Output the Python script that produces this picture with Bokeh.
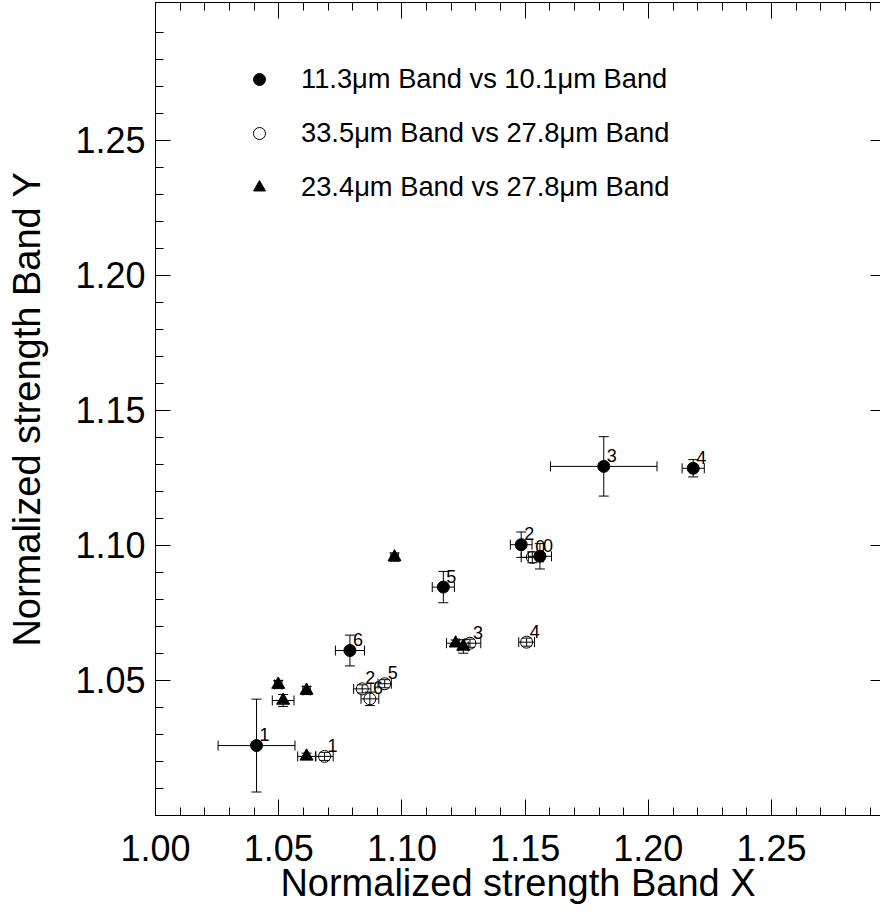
import numpy as np
from bokeh.plotting import figure
from bokeh.models import (ColumnDataSource, Range1d, LinearAxis, FixedTicker, Whisker,
                          TeeHead, Legend, LegendItem, Label, PrintfTickFormatter)
from bokeh.core.properties import value
from bokeh.embed import file_html
from bokeh.resources import INLINE

FONT = "Liberation Sans"

# 11.3um Band vs 10.1um Band (filled circles)
a_lab = ["1", "6", "5", "2", "0", "3", "4"]
a_x = [1.0410, 1.0789, 1.1168, 1.1484, 1.1560, 1.1819, 1.2182]
a_y = [1.0259, 1.0611, 1.0846, 1.1003, 1.0960, 1.1293, 1.1286]
a_xe = [0.0156, 0.0059, 0.0045, 0.0044, 0.0047, 0.0216, 0.0045]
a_ye = [0.0172, 0.0057, 0.0058, 0.0047, 0.0047, 0.0110, 0.0032]

# 33.5um Band vs 27.8um Band (open circles)
b_lab = ["1", "2", "6", "5", "3", "4", "0"]
b_x = [1.0686, 1.0839, 1.0870, 1.0930, 1.1276, 1.1506, 1.1529]
b_y = [1.0219, 1.0469, 1.0432, 1.0488, 1.0638, 1.0642, 1.0956]
b_xe = [0.0035, 0.0035, 0.0036, 0.0027, 0.0044, 0.0032, 0.0045]
b_ye = [0.0015, 0.0015, 0.0025, 0.0015, 0.0015, 0.0015, 0.0020]

# 23.4um Band vs 27.8um Band (filled triangles)
c_x = [1.0498, 1.0518, 1.0613, 1.0613, 1.0970, 1.1218, 1.1249]
c_y = [1.0485, 1.0426, 1.0463, 1.0219, 1.0957, 1.0638, 1.0626]
c_xe = [0.0015, 0.0044, 0.0015, 0.0036, 0.0015, 0.0037, 0.0020]
c_ye = [0.0015, 0.0022, 0.0015, 0.0012, 0.0015, 0.0012, 0.0025]

legend_labels = ["11.3μm Band vs 10.1μm Band",
                 "33.5μm Band vs 27.8μm Band",
                 "23.4μm Band vs 27.8μm Band"]

x_ticks = [1.00, 1.05, 1.10, 1.15, 1.20, 1.25]
y_ticks = [1.05, 1.10, 1.15, 1.20, 1.25]
x_minor = [round(1.00 + 0.01 * i, 2) for i in range(30)]
y_minor = [round(1.00 + 0.01 * i, 2) for i in range(30)]
y_first_label = "1.00"
x_title = "Normalized strength Band X"
y_title = "Normalized strength Band Y"

p = figure(width=880, height=907, output_backend="svg", toolbar_location=None,
           x_range=Range1d(1.0, 1.2942), y_range=Range1d(1.0, 1.3011),
           min_border_left=155, min_border_right=0, min_border_top=2,
           min_border_bottom=92, x_axis_location=None, y_axis_location=None)
p.outline_line_color = None
p.xgrid.visible = False
p.ygrid.visible = False
p.background_fill_color = "white"


def make_axis(ticks, minor, show_labels, line=True, tick_len=16, minor_len=8, label=None):
    ax = LinearAxis(ticker=FixedTicker(ticks=ticks, minor_ticks=minor),
                    formatter=PrintfTickFormatter(format="%.2f"))
    ax.major_tick_in = tick_len
    ax.major_tick_out = 0
    ax.minor_tick_in = minor_len
    ax.minor_tick_out = 0
    ax.major_tick_line_color = "black"
    ax.minor_tick_line_color = "black" if minor_len > 0 else None
    ax.axis_line_color = "black" if line else None
    if show_labels:
        ax.major_label_text_font = FONT
        ax.major_label_text_font_size = "36px"
        ax.major_label_text_color = "black"
    else:
        ax.major_label_text_font_size = "0px"
        ax.major_label_standoff = 0
    if label:
        ax.axis_label = label
        ax.axis_label_text_font = FONT
        ax.axis_label_text_font_size = "38px"
        ax.axis_label_text_font_style = "normal"
        ax.axis_label_text_color = "black"
    return ax


xb = make_axis(x_ticks, x_minor, True, label=x_title)
xb.major_label_standoff = 19
xb.axis_label_standoff = -2
p.add_layout(xb, "below")
xt = make_axis(x_ticks, x_minor, False)
p.add_layout(xt, "above")
yl = make_axis(y_ticks, y_minor, True, tick_len=15, label=y_title)
yl.major_label_standoff = 10
yl.axis_label_standoff = 24
p.add_layout(yl, "left")
yr = make_axis(y_ticks, y_minor, False, line=False, tick_len=10, minor_len=0)
p.add_layout(yr, "right")

# y tick label "1.00" is lifted above the x axis, as in the original
p.add_layout(Label(x=x_ticks[0], y=1.0, text=y_first_label, x_units="data", y_units="data",
                   x_offset=-10, y_offset=14, text_align="right", text_baseline="middle",
                   text_font=FONT, text_font_size="36px", text_color="black"))


def src(xs, ys, xe, ye, labels=None):
    xs = np.array(xs); ys = np.array(ys); xe = np.array(xe); ye = np.array(ye)
    d = dict(x=xs, y=ys, xl=xs - xe, xu=xs + xe, yl=ys - ye, yu=ys + ye)
    if labels is not None:
        d["lab"] = labels
    return ColumnDataSource(d)


sa = src(a_x, a_y, a_xe, a_ye, a_lab)
sb = src(b_x, b_y, b_xe, b_ye, b_lab)
sc = src(c_x, c_y, c_xe, c_ye)

for s in (sa, sb, sc):
    p.add_layout(Whisker(source=s, base="x", lower="yl", upper="yu", dimension="height",
                         line_color="black", line_width=1,
                         lower_head=TeeHead(size=10, line_color="black", line_width=1),
                         upper_head=TeeHead(size=10, line_color="black", line_width=1)))
    p.add_layout(Whisker(source=s, base="y", lower="xl", upper="xu", dimension="width",
                         line_color="black", line_width=1,
                         lower_head=TeeHead(size=10, line_color="black", line_width=1),
                         upper_head=TeeHead(size=10, line_color="black", line_width=1)))

ra = p.scatter("x", "y", source=sa, marker="circle", size=12, fill_color="black",
               line_color="black")
rb = p.scatter("x", "y", source=sb, marker="circle", size=12, fill_color=None,
               line_color="black", line_width=1)
rc = p.scatter("x", "y", source=sc, marker="triangle", size=13, fill_color="black",
               line_color="black")

for s in (sa, sb):
    p.text("x", "y", text="lab", source=s, x_offset=3, y_offset=-11,
           text_font=value(FONT), text_font_size="18px", text_color="black",
           text_baseline="alphabetic", text_align="left")

legend = Legend(items=[LegendItem(label=legend_labels[0], renderers=[ra]),
                       LegendItem(label=legend_labels[1], renderers=[rb]),
                       LegendItem(label=legend_labels[2], renderers=[rc])],
                location=(89, 612), orientation="vertical",
                glyph_width=30, glyph_height=30, label_height=30, spacing=22,
                label_standoff=27, padding=0, margin=0,
                border_line_color=None, background_fill_alpha=0,
                label_text_font=FONT, label_text_font_size="27.3px",
                label_text_color="black")
p.add_layout(legend, "center")

open("out.html", "w").write(file_html(p, INLINE))
